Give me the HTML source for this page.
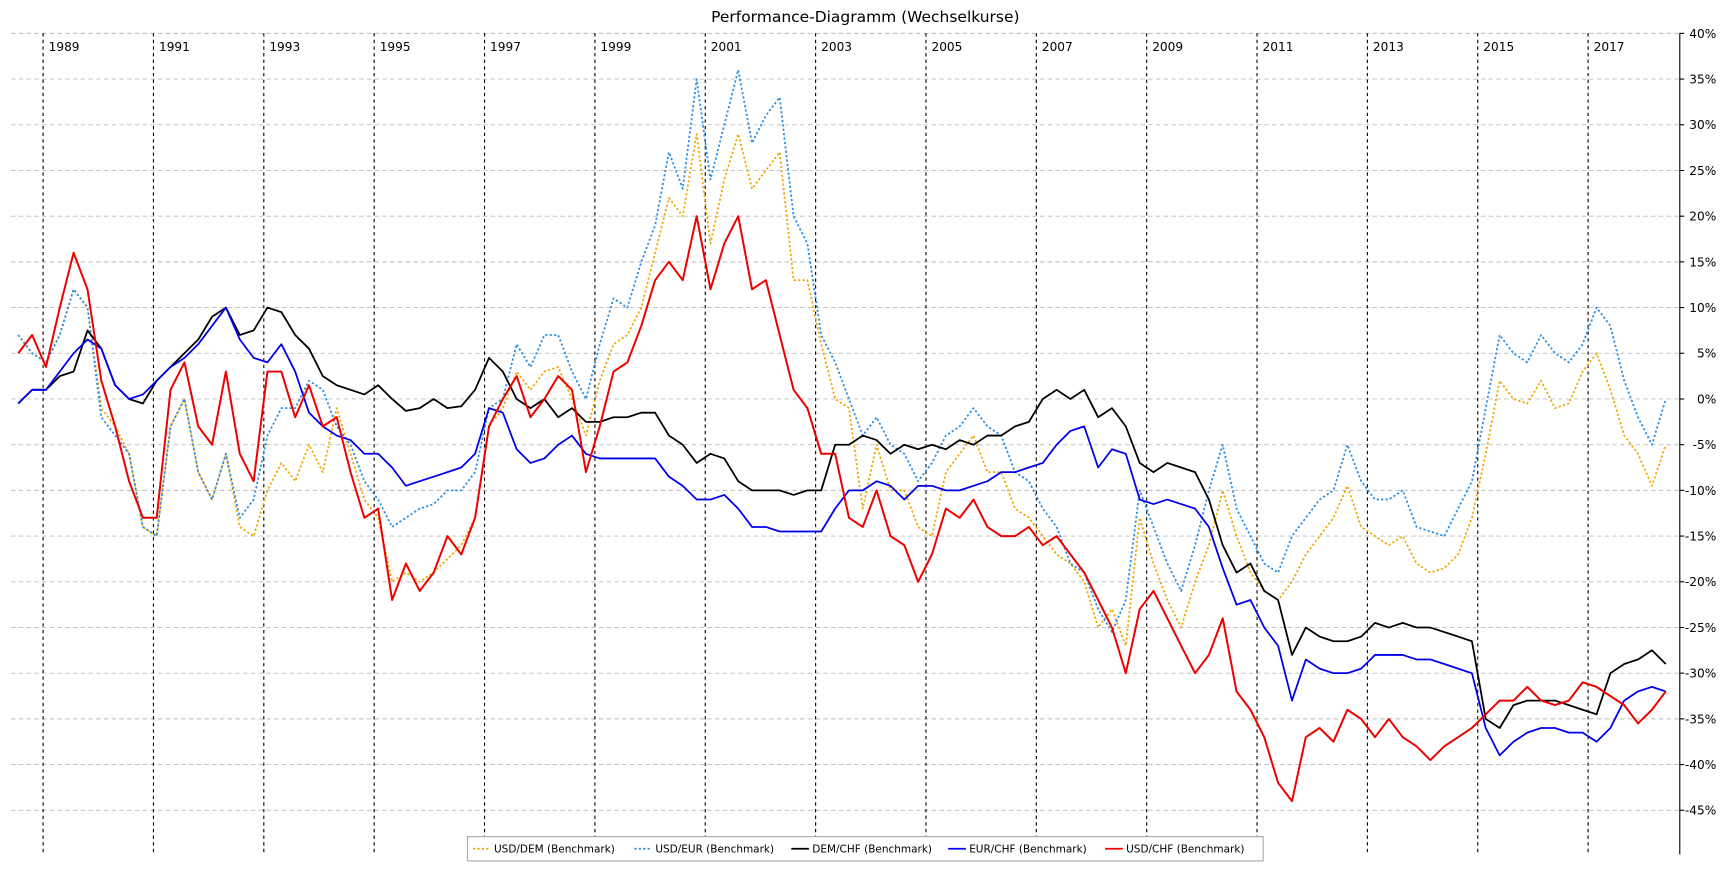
<!DOCTYPE html>
<html><head><meta charset="utf-8"><style>
html,body{margin:0;padding:0;background:#fff;}
svg{display:block;font-family:"DejaVu Sans","Liberation Sans",sans-serif;}
</style></head><body>
<svg id="chart" width="1724" height="893" viewBox="0 0 1560 808" preserveAspectRatio="none" xmlns="http://www.w3.org/2000/svg">
<text x="783" y="20" font-size="14" text-anchor="middle" fill="#000">Performance-Diagramm (Wechselkurse)</text>
<g id="grid"></g><g id="series"></g><g id="axis"></g>
<g id="legend"></g>
</svg>
<script>
const yTicks=[40,35,30,25,20,15,10,5,0,-5,-10,-15,-20,-25,-30,-35,-40,-45];
const yearLabels=[1989,1991,1993,1995,1997,1999,2001,2003,2005,2007,2009,2011,2013,2015,2017];
const startYear=1988.55, stepYears=0.2509;
const usdDem=[7,5,4,7,12,10,-1,-3,-6,-14,-15,-3,0,-8,-11,-6,-14,-15,-10,-7,-9,-5,-8,-1,-6,-11,-13,-20,-19,-20,-19,-17.5,-16,-13,-3,-1,3,1,3,3.5,0,-4,2,6,7,10,16,22,20,29,17,24,29,23,25,27,13,13,6,0,-1,-12,-5,-10,-10,-14,-15,-8,-6,-4,-8,-8,-12,-13,-15,-17,-18,-20,-25,-23,-27,-13,-18,-22,-25,-20,-16,-10,-15,-19,-21,-22,-20,-17,-15,-13,-9.5,-14,-15,-16,-15,-18,-19,-18.5,-17,-13,-6,2,0,-0.5,2,-1,-0.5,3,5,1,-4,-6,-9.5,-5];
const usdEur=[7,5,4,7,12,10,-2,-4,-6,-14,-15,-3,0,-8,-11,-6,-13,-11,-4,-1,-1,2,1,-3,-5,-9,-11,-14,-13,-12,-11.5,-10,-10,-8,-1,0,6,3.5,7,7,3,0,6,11,10,15,19,27,23,35,24,30,36,28,31,33,20,17,7,4,0,-4,-2,-5,-6,-9,-7,-4,-3,-1,-3,-4,-8,-9,-12,-14,-18,-19,-23,-25.5,-22,-10,-14,-18,-21,-16,-10,-5,-12,-15,-18,-19,-15,-13,-11,-10,-5,-9,-11,-11,-10,-14,-14.5,-15,-12,-9,-1,7,5,4,7,5,4,6,10,8,2,-2,-5,0];
const demChf=[-0.5,1,1,2.5,3,7.5,5.5,1.5,0,-0.5,2,3.5,5,6.5,9,10,7,7.5,10,9.5,7,5.5,2.5,1.5,1,0.5,1.5,0,-1.3,-1,0,-1,-0.8,1,4.5,3,0,-1,0,-2,-1,-2.5,-2.5,-2,-2,-1.5,-1.5,-4,-5,-7,-6,-6.5,-9,-10,-10,-10,-10.5,-10,-10,-5,-5,-4,-4.5,-6,-5,-5.5,-5,-5.5,-4.5,-5,-4,-4,-3,-2.5,0,1,0,1,-2,-1,-3,-7,-8,-7,-7.5,-8,-11,-16,-19,-18,-21,-22,-28,-25,-26,-26.5,-26.5,-26,-24.5,-25,-24.5,-25,-25,-25.5,-26,-26.5,-35,-36,-33.5,-33,-33,-33,-33.5,-34,-34.5,-30,-29,-28.5,-27.5,-29];
const eurChf=[-0.5,1,1,3,5,6.5,5.5,1.5,0,0.5,2,3.5,4.5,6,8,10,6.5,4.5,4,6,3,-1.5,-3,-4,-4.5,-6,-6,-7.5,-9.5,-9,-8.5,-8,-7.5,-6,-1,-1.5,-5.5,-7,-6.5,-5,-4,-6,-6.5,-6.5,-6.5,-6.5,-6.5,-8.5,-9.5,-11,-11,-10.5,-12,-14,-14,-14.5,-14.5,-14.5,-14.5,-12,-10,-10,-9,-9.5,-11,-9.5,-9.5,-10,-10,-9.5,-9,-8,-8,-7.5,-7,-5,-3.5,-3,-7.5,-5.5,-6,-11,-11.5,-11,-11.5,-12,-14,-18.5,-22.5,-22,-25,-27,-33,-28.5,-29.5,-30,-30,-29.5,-28,-28,-28,-28.5,-28.5,-29,-29.5,-30,-36,-39,-37.5,-36.5,-36,-36,-36.5,-36.5,-37.5,-36,-33,-32,-31.5,-32];
const usdChf=[5,7,3.5,10,16,12,2,-3,-9,-13,-13,1,4,-3,-5,3,-6,-9,3,3,-2,1.5,-3,-2,-8,-13,-12,-22,-18,-21,-19,-15,-17,-13,-3,0,2.5,-2,0,2.5,1,-8,-3,3,4,8,13,15,13,20,12,17,20,12,13,7,1,-1,-6,-6,-13,-14,-10,-15,-16,-20,-17,-12,-13,-11,-14,-15,-15,-14,-16,-15,-17,-19,-22,-25,-30,-23,-21,-24,-27,-30,-28,-24,-32,-34,-37,-42,-44,-37,-36,-37.5,-34,-35,-37,-35,-37,-38,-39.5,-38,-37,-36,-34.5,-33,-33,-31.5,-33,-33.5,-33,-31,-31.5,-32.5,-33.5,-35.5,-34,-32];
const seriesNames=["USD/DEM (Benchmark)","USD/EUR (Benchmark)","DEM/CHF (Benchmark)","EUR/CHF (Benchmark)","USD/CHF (Benchmark)"];

const NS="http://www.w3.org/2000/svg";
const PL=10, PR=1520, PT=30, PB=773;
function xScale(year){return 39+(year-1989)*49.93;}
function yScale(v){return 361-v*8.27;}
function mk(tag,attrs,parent){const e=document.createElementNS(NS,tag);for(const k in attrs)e.setAttribute(k,attrs[k]);parent.appendChild(e);return e;}
const grid=document.getElementById('grid'), axis=document.getElementById('axis'), ser=document.getElementById('series'), leg=document.getElementById('legend');

yTicks.forEach(t=>{
  const y=yScale(t);
  const l=mk('line',{x1:PL,x2:PR,y1:y,y2:y,stroke:'#bbb','stroke-width':0.8,'stroke-dasharray':'4,3'},grid);
  
  
  const tk=mk('line',{x1:PR,x2:PR+4,y1:y,y2:y,stroke:'#000','stroke-width':1},axis);
  
  
  const tx=mk('text',{x:1553,y:y+4,'font-size':11,'text-anchor':'end',fill:'#000'},axis);
  tx.textContent=t+'%';
  
  
});
yearLabels.forEach(yr=>{
  const x=xScale(yr);
  const l=mk('line',{x1:x,x2:x,y1:PT,y2:PB,stroke:'#000','stroke-width':1,'stroke-dasharray':'3,3'},grid);
  
  
  const tx=mk('text',{x:x+5,y:46,'font-size':11,fill:'#000'},axis);
  tx.textContent=yr;
  
  
});
const ax=mk('line',{x1:PR,x2:PR,y1:PT,y2:PB,stroke:'#000','stroke-width':1},axis);



const styles=[
 {data:usdDem,color:'#f0a800',dash:'2,2',w:1.6,name:'series-usd-dem'},
 {data:usdEur,color:'#2a8fe0',dash:'2,2',w:1.6,name:'series-usd-eur'},
 {data:demChf,color:'#000',dash:null,w:1.6,name:'series-dem-chf'},
 {data:eurChf,color:'#0000ee',dash:null,w:1.6,name:'series-eur-chf'},
 {data:usdChf,color:'#ee0000',dash:null,w:1.8,name:'series-usd-chf'}
];
styles.forEach(s=>{
  const pts=s.data.map((v,i)=>xScale(startYear+i*stepYears).toFixed(1)+','+yScale(v).toFixed(1)).join(' ');
  const a={points:pts,fill:'none',stroke:s.color,'stroke-width':s.w,'stroke-linejoin':'round'};
  if(s.dash)a['stroke-dasharray']=s.dash;
  const p=mk('polyline',a,ser);
  
  
});

const box=mk('rect',{x:423,y:757,width:720,height:22,fill:'#fff',stroke:'#aaa','stroke-width':1},leg);


const lx=[428,574,716,858,1000];
styles.forEach((s,i)=>{
  const a={x1:lx[i],x2:lx[i]+16,y1:768,y2:768,stroke:s.color,'stroke-width':1.6};
  if(s.dash)a['stroke-dasharray']=s.dash;
  const l=mk('line',a,leg);
  
  
  const t=mk('text',{x:lx[i]+19,y:771.5,'font-size':9.5,fill:'#000'},leg);
  t.textContent=seriesNames[i];
  
  
});
</script>
</body></html>
